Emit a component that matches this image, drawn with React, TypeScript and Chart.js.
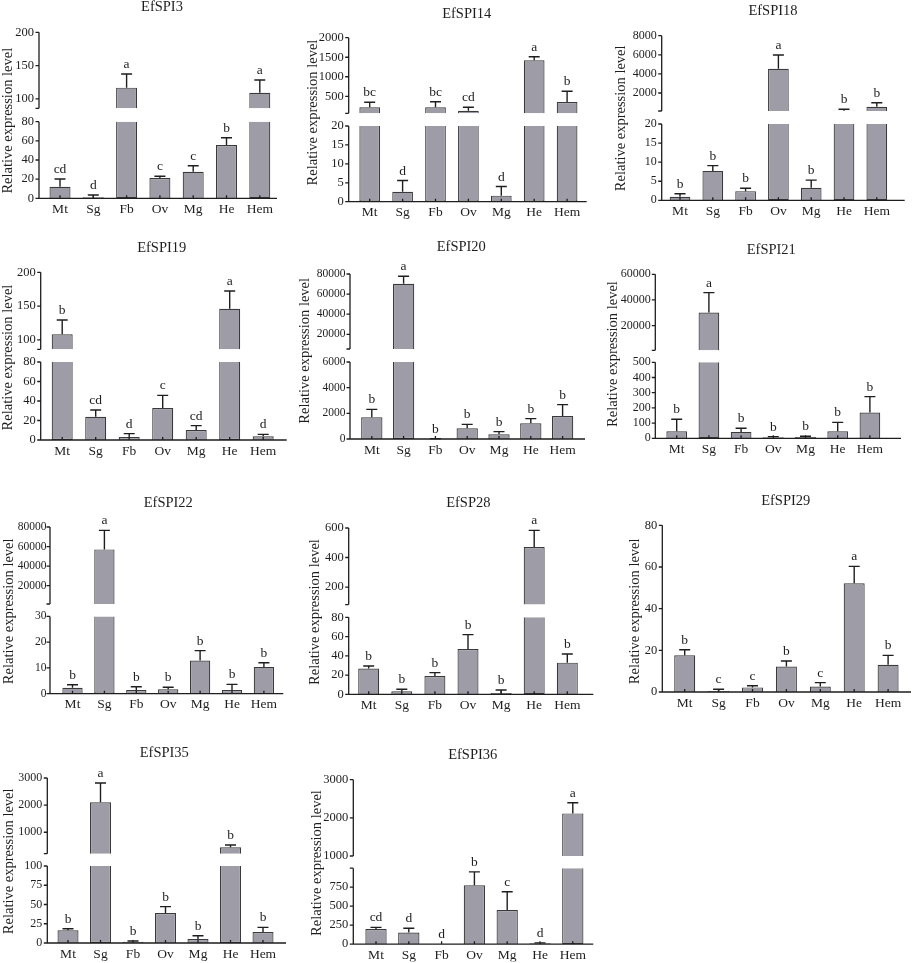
import { useEffect, useRef } from 'react';
import { Chart, registerables } from 'chart.js';

Chart.register(...registerables);

const tissues = ['Mt', 'Sg', 'Fb', 'Ov', 'Mg', 'He', 'Hem'];

// values; cut = [top of lower segment, bottom of upper segment]
const spi3Means = [12.1, 1.0, 117, 21.2, 27.8, 55.7, 109.4];
const spi3Errors = [8.1, 2.5, 20.4, 1.8, 6.2, 7.6, 19.1];
const spi3Letters = ['cd', 'd', 'a', 'c', 'c', 'b', 'a'];
const spi3LowTicks = [0, 20, 40, 60, 80];
const spi3HighTicks = [100, 150, 200];
const spi3Cut = [80, 86];

const spi14Means = [219, 2.6, 219, 131, 1.6, 1422, 354];
const spi14Errors = [127, 3.0, 143, 88, 2.4, 92, 274];
const spi14Letters = ['bc', 'd', 'bc', 'cd', 'd', 'a', 'b'];
const spi14LowTicks = [0, 5, 10, 15, 20];
const spi14HighTicks = [500, 1000, 1500, 2000];
const spi14Cut = [20, 65];

const spi18Means = [0.9, 7.7, 2.4, 4544, 3.3, 150, 565];
const spi18Errors = [0.8, 1.4, 0.75, 1435, 2.0, 150, 420];
const spi18Letters = ['b', 'b', 'b', 'a', 'b', 'b', 'b'];
const spi18LowTicks = [0, 5, 10, 15, 20];
const spi18HighTicks = [2000, 4000, 6000, 8000];
const spi18Cut = [20, 115];

const spi19Means = [108.2, 23.9, 3.1, 32.8, 10.3, 146.1, 3.8];
const spi19Errors = [21.2, 6.9, 3.4, 13, 4.4, 26.2, 2.0];
const spi19Letters = ['b', 'cd', 'd', 'c', 'cd', 'a', 'd'];
const spi19LowTicks = [0, 20, 40, 60, 80];
const spi19HighTicks = [100, 150, 200];
const spi19Cut = [80, 86];

const spi20Means = [1688, 70350, 20, 831, 363, 1221, 1792];
const spi20Errors = [624, 7350, 10, 312, 208, 363, 883];
const spi20Letters = ['b', 'a', 'b', 'b', 'b', 'b', 'b'];
const spi20LowTicks = [0, 2000, 4000, 6000];
const spi20HighTicks = [20000, 40000, 60000, 80000];
const spi20Cut = [6000, 5400];

const spi21Means = [46, 30100, 42, 6.6, 8.8, 46, 169];
const spi21Errors = [79, 15600, 24, 4.4, 4.2, 59, 105];
const spi21Letters = ['b', 'a', 'b', 'b', 'b', 'b', 'b'];
const spi21LowTicks = [0, 100, 200, 300, 400, 500];
const spi21HighTicks = [20000, 40000, 60000];
const spi21Cut = [500, 700];

const spi22Means = [2.3, 57100, 1.4, 1.7, 12.9, 1.4, 10.4];
const spi22Errors = [1.2, 19400, 1.3, 0.8, 3.8, 2.2, 1.6];
const spi22Letters = ['b', 'a', 'b', 'b', 'b', 'b', 'b'];
const spi22LowTicks = [0, 10, 20, 30];
const spi22HighTicks = [20000, 40000, 60000, 80000];
const spi22Cut = [30, 1300];

const sp28Means = [26.7, 3.1, 19.0, 47.1, 1.4, 471, 32.9];
const sp28Errors = [2.7, 2.1, 3.5, 14.9, 3.1, 113, 9.0];
const sp28Letters = ['b', 'b', 'b', 'b', 'b', 'a', 'b'];
const sp28LowTicks = [0, 20, 40, 60, 80];
const sp28HighTicks = [200, 400, 600];
const sp28Cut = [80, 81];

const spi29Means = [17.6, 0.5, 2.2, 12.2, 2.6, 52.2, 13.1];
const spi29Errors = [2.7, 0.8, 0.8, 2.7, 1.9, 8.1, 4.5];
const spi29Letters = ['b', 'c', 'c', 'b', 'c', 'a', 'b'];
const spi29LowTicks = [0, 20, 40, 60, 80];
const spi29HighTicks: number[] = [];
const spi29Cut: number[] = [];

const spi35Means = [16.5, 2104, 1.7, 39, 5.2, 446, 14.3];
const spi35Errors = [2.1, 712, 0.9, 8.2, 4.3, 85, 6.0];
const spi35Letters = ['b', 'a', 'b', 'b', 'b', 'b', 'b'];
const spi35LowTicks = [0, 25, 50, 75, 100];
const spi35HighTicks = [1000, 2000, 3000];
const spi35Cut = [100, 210];

const spi36Means = [200, 153, 3, 776, 449, 13, 2117];
const spi36Errors = [22, 56, 0, 175, 241, 5, 278];
const spi36Letters = ['cd', 'd', 'd', 'b', 'c', 'd', 'a'];
const spi36LowTicks = [0, 250, 500, 750];
const spi36HighTicks = [1000, 2000, 3000];
const spi36Cut = [1000, 1000];

type Panel = {
  title: string;
  means: number[];
  errors: number[];
  letters: string[];
  lowTicks: number[];
  highTicks: number[];
  cut: number[];
};

const panels: Panel[] = [
  { title: 'EfSPI3', means: spi3Means, errors: spi3Errors, letters: spi3Letters, lowTicks: spi3LowTicks, highTicks: spi3HighTicks, cut: spi3Cut },
  { title: 'EfSPI14', means: spi14Means, errors: spi14Errors, letters: spi14Letters, lowTicks: spi14LowTicks, highTicks: spi14HighTicks, cut: spi14Cut },
  { title: 'EfSPI18', means: spi18Means, errors: spi18Errors, letters: spi18Letters, lowTicks: spi18LowTicks, highTicks: spi18HighTicks, cut: spi18Cut },
  { title: 'EfSPI19', means: spi19Means, errors: spi19Errors, letters: spi19Letters, lowTicks: spi19LowTicks, highTicks: spi19HighTicks, cut: spi19Cut },
  { title: 'EfSPI20', means: spi20Means, errors: spi20Errors, letters: spi20Letters, lowTicks: spi20LowTicks, highTicks: spi20HighTicks, cut: spi20Cut },
  { title: 'EfSPI21', means: spi21Means, errors: spi21Errors, letters: spi21Letters, lowTicks: spi21LowTicks, highTicks: spi21HighTicks, cut: spi21Cut },
  { title: 'EfSPI22', means: spi22Means, errors: spi22Errors, letters: spi22Letters, lowTicks: spi22LowTicks, highTicks: spi22HighTicks, cut: spi22Cut },
  { title: 'EfSP28', means: sp28Means, errors: sp28Errors, letters: sp28Letters, lowTicks: sp28LowTicks, highTicks: sp28HighTicks, cut: sp28Cut },
  { title: 'EfSPI29', means: spi29Means, errors: spi29Errors, letters: spi29Letters, lowTicks: spi29LowTicks, highTicks: spi29HighTicks, cut: spi29Cut },
  { title: 'EfSPI35', means: spi35Means, errors: spi35Errors, letters: spi35Letters, lowTicks: spi35LowTicks, highTicks: spi35HighTicks, cut: spi35Cut },
  { title: 'EfSPI36', means: spi36Means, errors: spi36Errors, letters: spi36Letters, lowTicks: spi36LowTicks, highTicks: spi36HighTicks, cut: spi36Cut },
];

// page geometry of each panel (px): axis line, baseline, top, bars, break heights, text spots
type Box = {
  col: number; row: number;
  axisX: number; base: number; top: number;
  first: number; spacing: number; barW: number; axisEnd: number;
  loH: number; h0: number;
  titleX: number; titleY: number; labelX: number; labelY: number;
  tickSize: number; tickGap: number;
};

const colX = [0, 296, 600];
const colW = [296, 304, 313];
const rowY = [0, 235, 478, 733];
const rowH = [235, 243, 255, 230];

const boxes: Box[] = [
  { col: 0, row: 0, axisX: 39, base: 198.3, top: 32.3, first: 60, spacing: 33.3, barW: 21, axisEnd: 277, loH: 76.6, h0: 90, titleX: 162, titleY: 7.5, labelX: 8.5, labelY: 120.7, tickSize: 12.5, tickGap: 5 },
  { col: 1, row: 0, axisX: 348.7, base: 201.7, top: 37.7, first: 369.7, spacing: 32.9, barW: 20.7, axisEnd: 586.7, loH: 75.7, h0: 88.4, titleX: 466.7, titleY: 14, labelX: 313, labelY: 112.5, tickSize: 12.5, tickGap: 5 },
  { col: 2, row: 0, axisX: 661.7, base: 200.3, top: 35.7, first: 680, spacing: 32.8, barW: 20.7, axisEnd: 904.7, loH: 76.3, h0: 89.3, titleX: 773, titleY: 11.5, labelX: 621, labelY: 118.3, tickSize: 12, tickGap: 5 },
  { col: 0, row: 1, axisX: 40.7, base: 440, top: 272.3, first: 62.2, spacing: 33.5, barW: 21, axisEnd: 286.7, loH: 78, h0: 90.7, titleX: 161.7, titleY: 248.3, labelX: 8.5, labelY: 357.5, tickSize: 12.5, tickGap: 5 },
  { col: 1, row: 1, axisX: 350, base: 439, top: 274, first: 371.8, spacing: 31.8, barW: 21.3, axisEnd: 585, loH: 77, h0: 90, titleX: 461.3, titleY: 246.7, labelX: 305, labelY: 350.8, tickSize: 11.5, tickGap: 4.5 },
  { col: 2, row: 1, axisX: 655.3, base: 438.3, top: 274.3, first: 676.7, spacing: 32.2, barW: 20.7, axisEnd: 901, loH: 76, h0: 88, titleX: 771.3, titleY: 250, labelX: 613, labelY: 354, tickSize: 12, tickGap: 4.5 },
  { col: 0, row: 2, axisX: 50, base: 693.7, top: 527, first: 72.5, spacing: 31.9, barW: 20.3, axisEnd: 283.3, loH: 77.3, h0: 89.7, titleX: 168.3, titleY: 503, labelX: 9.5, labelY: 611.3, tickSize: 11.5, tickGap: 3.5 },
  { col: 1, row: 2, axisX: 348.7, base: 694.3, top: 528, first: 368.7, spacing: 33.1, barW: 21, axisEnd: 593.3, loH: 77, h0: 89.7, titleX: 468.3, titleY: 503, labelX: 315, labelY: 612, tickSize: 12.5, tickGap: 5 },
  { col: 2, row: 2, axisX: 662.3, base: 692, top: 525.3, first: 684.7, spacing: 33.9, barW: 21, axisEnd: 911, loH: 0, h0: 0, titleX: 785.7, titleY: 501.3, labelX: 635, labelY: 611.3, tickSize: 12.5, tickGap: 5 },
  { col: 0, row: 3, axisX: 47.3, base: 943, top: 778, first: 68, spacing: 32.5, barW: 21, axisEnd: 286, loH: 77, h0: 89.3, titleX: 164.3, titleY: 753, labelX: 9, labelY: 861.3, tickSize: 12, tickGap: 5 },
  { col: 1, row: 3, axisX: 353.3, base: 945.7, top: 779.7, first: 376, spacing: 32.8, barW: 21.3, axisEnd: 593.3, loH: 76.7, h0: 89, titleX: 472.7, titleY: 755.3, labelX: 317, labelY: 863, tickSize: 12.5, tickGap: 5 },
];

const FONT = '"Liberation Serif", "Times New Roman", serif';
const INK = '#1e1e1e';
const BAR_FILL = '#9e9da7';
const BAR_EDGE = '#3a3a3a';

function BarPanel({ panel, box }: { panel: Panel; box: Box }) {
  const canvasRef = useRef<HTMLCanvasElement | null>(null);
  const ox = colX[box.col];
  const oy = rowY[box.row];
  const cw = colW[box.col];
  const ch = rowH[box.row];

  useEffect(() => {
    if (!canvasRef.current) return;

    const H = box.base - box.top;
    const broken = panel.highTicks.length > 0;
    const loMax = broken ? panel.cut[0] : panel.lowTicks[panel.lowTicks.length - 1];
    const hiMin = broken ? panel.cut[1] : 0;
    const hiMax = broken ? panel.highTicks[panel.highTicks.length - 1] : 0;
    const loH = broken ? box.loH : H;
    const h0 = box.h0;

    // value -> height above the baseline, per segment
    const tLo = (v: number) => (v / loMax) * loH;
    const tHi = (v: number) => h0 + ((v - hiMin) / (hiMax - hiMin)) * (H - h0);

    const tickVals: number[] = [];
    const tickLabels: string[] = [];
    panel.lowTicks.forEach((v) => {
      tickVals.push(tLo(v));
      tickLabels.push(String(v));
    });
    if (broken) {
      if (!panel.lowTicks.includes(loMax)) {
        tickVals.push(loH);
        tickLabels.push('');
      }
      if (!panel.highTicks.includes(hiMin)) {
        tickVals.push(h0);
        tickLabels.push('');
      }
      panel.highTicks.forEach((v) => {
        tickVals.push(tHi(v));
        tickLabels.push(String(v));
      });
    }

    const areaLeft = box.first - box.spacing / 2 - ox;
    const areaRight = areaLeft + box.spacing * tissues.length;
    const axisX = box.axisX - ox;
    const yW = areaLeft - 1;
    const xH = ch - (box.base - oy);

    const barStyle = {
      backgroundColor: BAR_FILL,
      borderColor: BAR_EDGE,
      borderWidth: 1.2,
      barPercentage: box.barW / box.spacing,
      categoryPercentage: 1,
      grouped: false,
    };

    const decor = {
      id: 'decor',
      afterDraw(c: Chart) {
        const ctx = c.ctx;
        const ys = c.scales.y;
        const xs = c.scales.x;
        const by = ys.getPixelForValue(0);
        ctx.save();
        ctx.strokeStyle = INK;
        ctx.lineWidth = 1.3;
        ctx.beginPath();
        ctx.moveTo(axisX, by);
        ctx.lineTo(axisX, ys.getPixelForValue(loH));
        if (broken) {
          ctx.moveTo(axisX, ys.getPixelForValue(h0));
          ctx.lineTo(axisX, ys.getPixelForValue(H));
        }
        tickVals.forEach((v) => {
          const py = ys.getPixelForValue(v);
          ctx.moveTo(axisX - 3.5, py);
          ctx.lineTo(axisX, py);
        });
        ctx.moveTo(axisX - 0.6, by);
        ctx.lineTo(box.axisEnd - ox, by);
        tissues.forEach((_, i) => {
          const px = xs.getPixelForValue(i);
          ctx.moveTo(px, by);
          ctx.lineTo(px, by - 3);
        });
        ctx.stroke();

        // error bars and letters
        ctx.lineWidth = 1.4;
        ctx.fillStyle = INK;
        ctx.font = `13.5px ${FONT}`;
        ctx.textAlign = 'center';
        ctx.textBaseline = 'alphabetic';
        panel.means.forEach((m, i) => {
          const px = xs.getPixelForValue(i);
          const topV = m + panel.errors[i];
          const upper = broken && m > loMax;
          const meanH = upper ? tHi(m) : tLo(m);
          const topH = upper || (broken && topV > loMax) ? tHi(topV) : tLo(topV);
          const yMean = ys.getPixelForValue(meanH);
          const yTop = ys.getPixelForValue(topH);
          if (panel.errors[i] > 0) {
            ctx.beginPath();
            ctx.moveTo(px, yMean);
            ctx.lineTo(px, yTop);
            ctx.moveTo(px - 5.5, yTop);
            ctx.lineTo(px + 5.5, yTop);
            ctx.stroke();
          }
          ctx.fillText(panel.letters[i], px, yTop - 6);
        });

        ctx.font = `14.5px ${FONT}`;
        ctx.textBaseline = 'middle';
        ctx.fillText(panel.title, box.titleX - ox, box.titleY - oy);

        ctx.translate(box.labelX - ox, box.labelY - oy);
        ctx.rotate(-Math.PI / 2);
        ctx.font = `14.5px ${FONT}`;
        ctx.fillText('Relative expression level', 0, 0);
        ctx.restore();
      },
    };

    const chart = new Chart(canvasRef.current, {
      type: 'bar',
      data: {
        labels: tissues,
        datasets: [
          {
            ...barStyle,
            data: panel.means.map((v) => [0, tLo(Math.min(v, loMax))]),
            borderSkipped: (ctx: any) =>
              broken && panel.means[ctx.dataIndex] > loMax ? 'top' : 'bottom',
          },
          {
            ...barStyle,
            data: panel.means.map((v) => (broken && v > loMax ? [h0, tHi(v)] : null)),
            borderSkipped: 'bottom',
          },
        ] as any,
      },
      options: {
        responsive: false,
        animation: false,
        layout: {
          padding: {
            left: areaLeft - yW,
            right: cw - areaRight,
            top: box.top - oy,
            bottom: 0,
          },
        },
        plugins: {
          legend: { display: false },
          tooltip: { enabled: false },
        },
        scales: {
          x: {
            type: 'category',
            offset: true,
            grid: { display: false, drawTicks: false },
            border: { display: false },
            ticks: {
              color: INK,
              font: { family: FONT, size: 13.5 },
              padding: 3,
              autoSkip: false,
              maxRotation: 0,
            },
            afterFit: (s: any) => {
              s.height = xH;
            },
          },
          y: {
            type: 'linear',
            min: 0,
            max: H,
            grid: { display: false, drawTicks: false },
            border: { display: false },
            ticks: {
              color: INK,
              font: { family: FONT, size: box.tickSize },
              padding: areaLeft - axisX + box.tickGap,
              autoSkip: false,
              callback: (_v: any, i: number) => tickLabels[i],
            },
            afterBuildTicks: (s: any) => {
              s.ticks = tickVals.map((value) => ({ value }));
            },
            afterFit: (s: any) => {
              s.width = yW;
            },
          },
        },
      },
      plugins: [decor],
    });

    return () => {
      chart.destroy();
    };
  }, [panel, box]);

  return (
    <canvas
      ref={canvasRef}
      width={cw}
      height={ch}
      style={{ position: 'absolute', left: ox, top: oy, width: cw, height: ch }}
    />
  );
}

export default function App() {
  return (
    <div
      style={{
        position: 'absolute',
        left: 0,
        top: 0,
        width: 913,
        height: 963,
        background: '#ffffff',
      }}
    >
      {panels.map((p, i) => (
        <BarPanel key={p.title} panel={p} box={boxes[i]} />
      ))}
    </div>
  );
}
